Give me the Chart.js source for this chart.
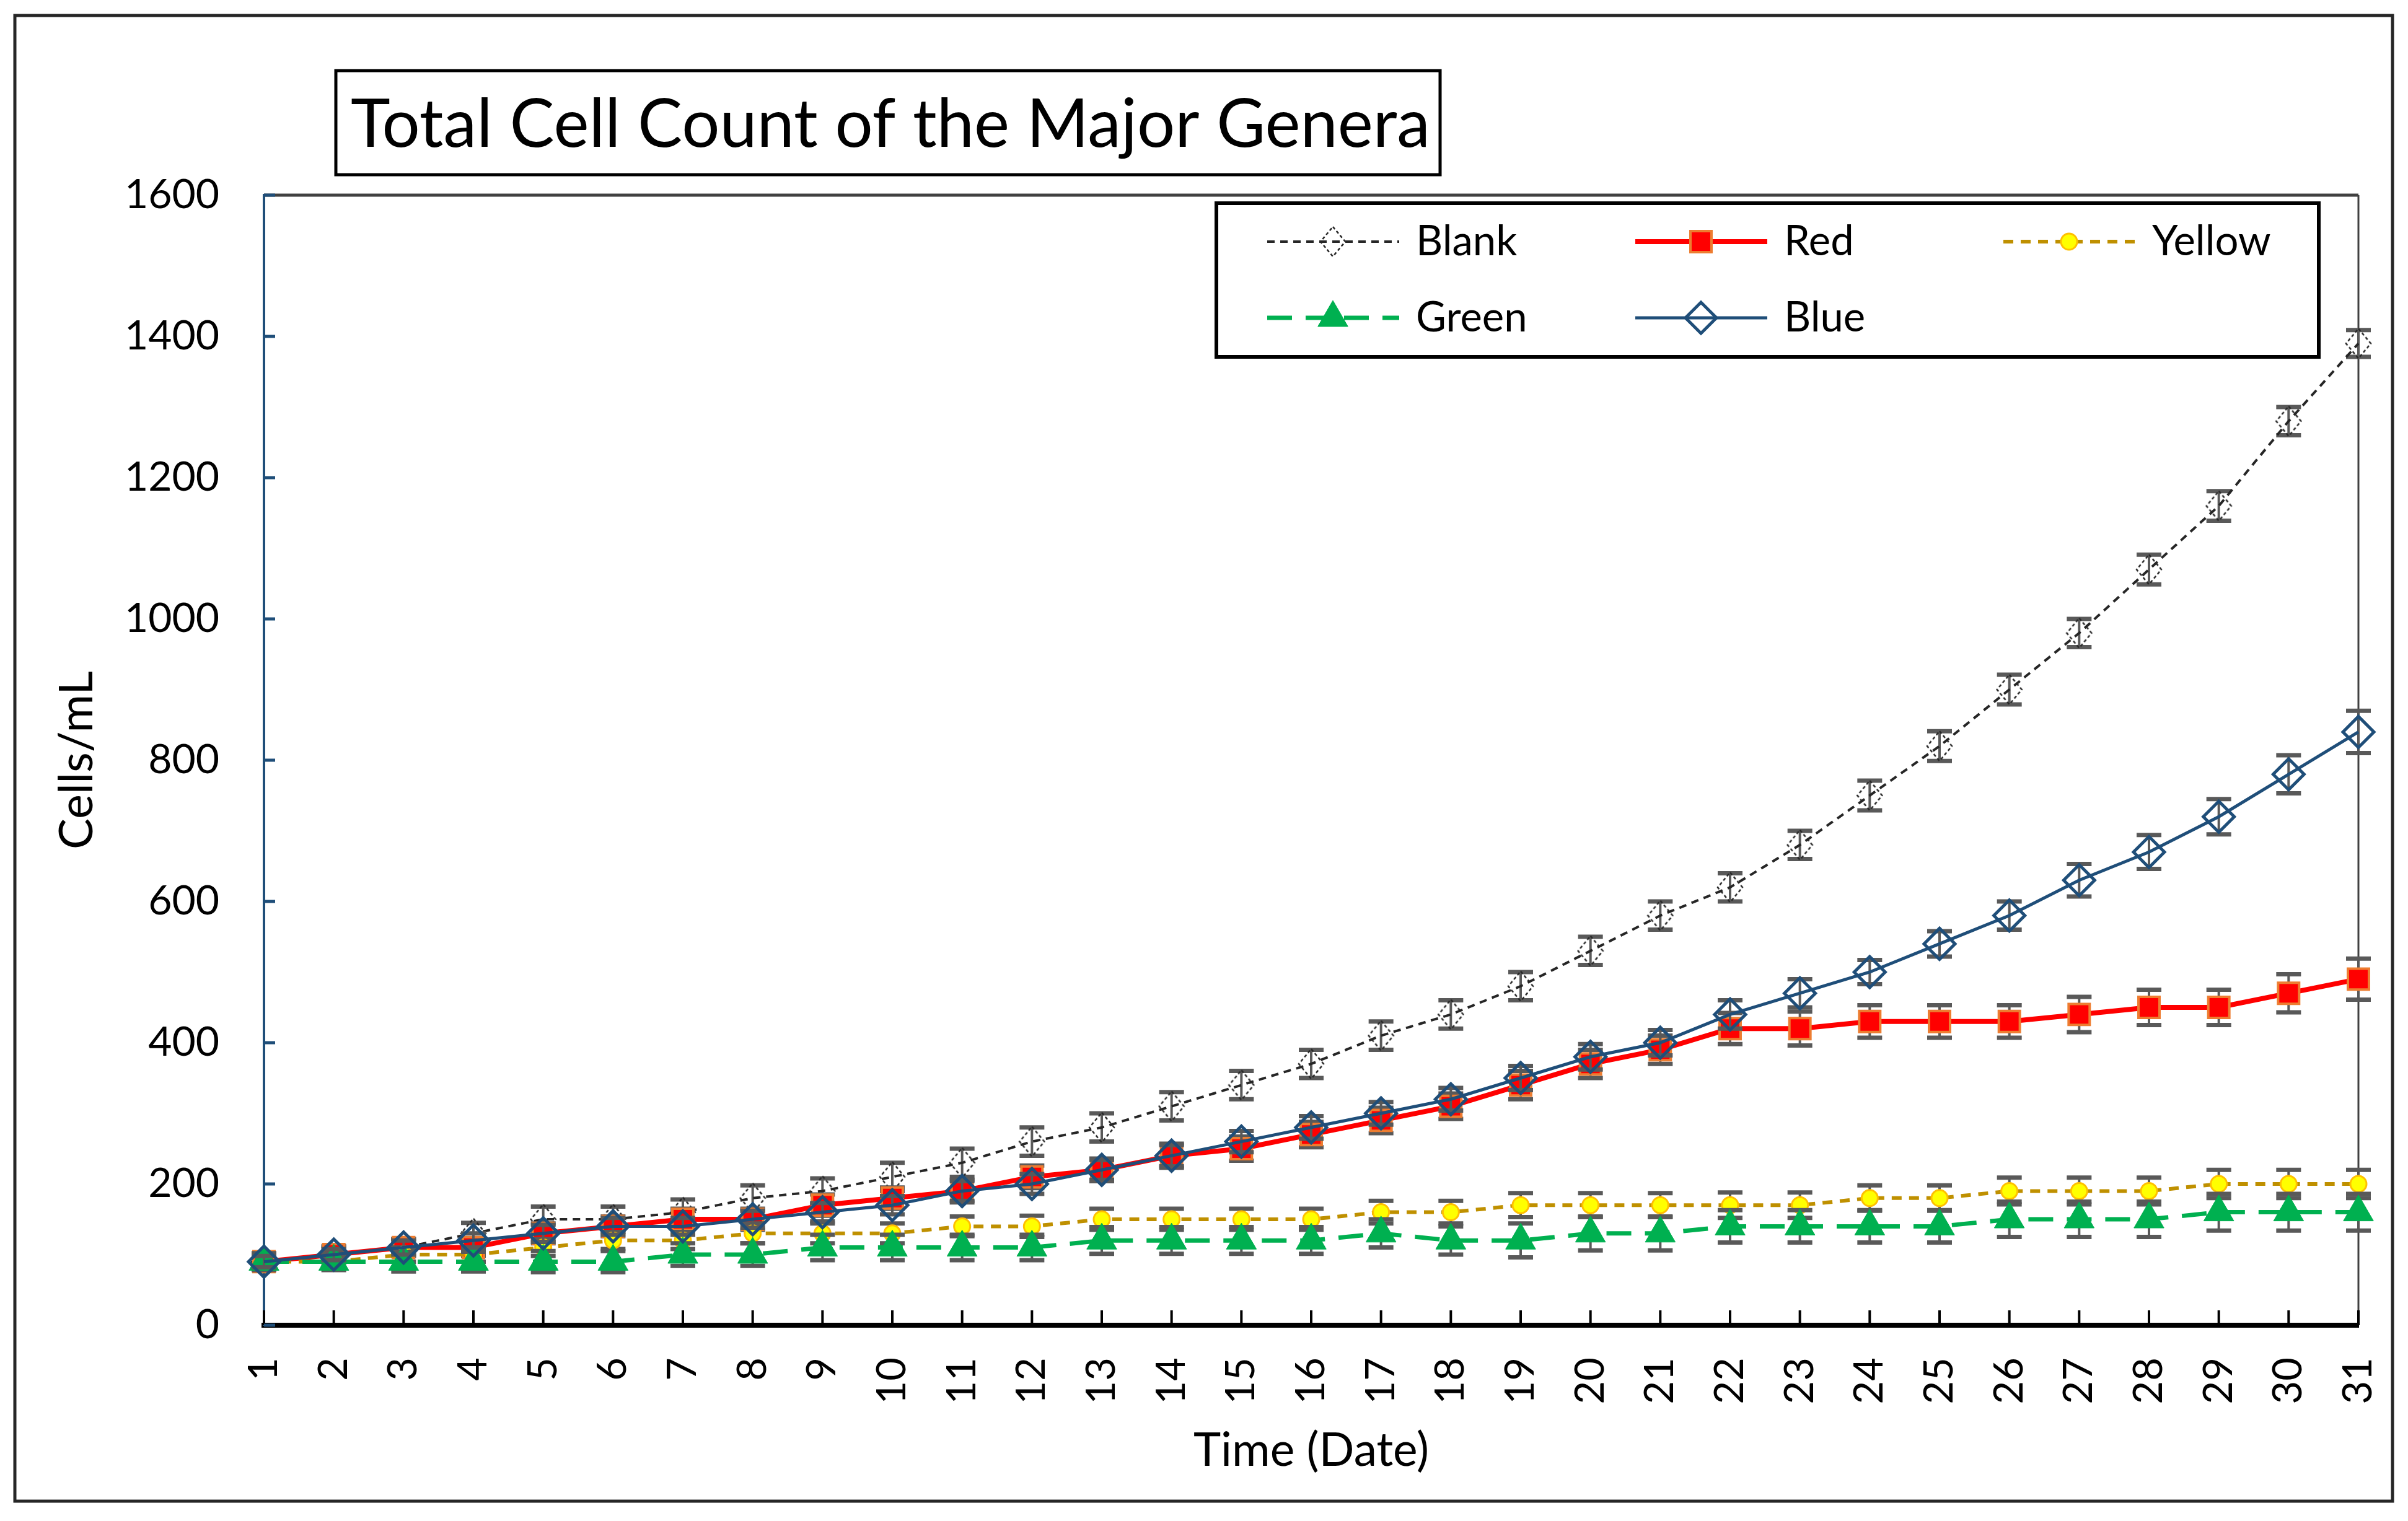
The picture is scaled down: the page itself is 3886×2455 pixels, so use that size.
<!DOCTYPE html>
<html>
<head>
<meta charset="utf-8">
<script src="https://cdn.jsdelivr.net/npm/chart.js@4.4.1/dist/chart.umd.min.js"></script>
<style>
  html, body { margin: 0; padding: 0; background: #fff; }
  #grafico { display: block; width: 3886px; height: 2455px; }
</style>
</head>
<body>
<canvas id="grafico" width="3886" height="2455"></canvas>
<script>
// dias no eixo x
const days = ['1','2','3','4','5','6','7','8','9','10','11','12','13','14','15','16','17','18','19','20','21','22','23','24','25','26','27','28','29','30','31'];

// valores (Cells/mL)
const blank  = [90,100,110,130,150,150,160,180,190,210,230,260,280,310,340,370,410,440,480,530,580,620,680,750,820,900,980,1070,1160,1280,1390];
const red    = [90,100,110,110,130,140,150,150,170,180,190,210,220,240,250,270,290,310,340,370,390,420,420,430,430,430,440,450,450,470,490];
const yellow = [90,90,100,100,110,120,120,130,130,130,140,140,150,150,150,150,160,160,170,170,170,170,170,180,180,190,190,190,200,200,200];
const green  = [90,90,90,90,90,90,100,100,110,110,110,110,120,120,120,120,130,120,120,130,130,140,140,140,140,150,150,150,160,160,160];
const blue   = [90,100,110,120,130,140,140,150,160,170,190,200,220,240,260,280,300,320,350,380,400,440,470,500,540,580,630,670,720,780,840];

// barras de erro (+/-)
const blankErr  = [10,12,12,15,18,18,18,18,18,20,20,20,20,20,20,20,20,20,20,20,20,20,20,21,21,21,20,21,21,20,19];
const redErr    = [10,10,12,12,14,14,15,15,15,15,16,16,16,17,17,18,18,18,20,20,20,22,24,23,23,23,25,25,25,27,29];
const yellowErr = [8,8,10,10,12,12,12,14,14,14,14,15,15,15,15,15,16,16,17,17,17,18,18,18,18,19,19,19,20,20,20];
const greenErr  = [12,12,14,14,15,15,16,16,18,18,18,18,19,19,19,19,20,20,24,24,24,23,23,23,23,25,25,25,26,26,26];
const blueErr   = [8,8,10,10,12,12,12,12,13,13,14,14,14,15,15,16,16,16,17,18,18,20,20,17,18,20,23,24,25,27,30];

const FONT = "Lato, 'Open Sans', sans-serif";
Chart.defaults.font.family = FONT;
Chart.defaults.color = '#000';

// marcador tracejado da série Blank
function dashedDiamond() {
    const c = document.createElement('canvas');
    c.width = 44; c.height = 52;
    const g = c.getContext('2d');
    g.strokeStyle = '#262626';
    g.lineWidth = 2.5;
    g.setLineDash([5, 4]);
    g.beginPath();
    g.moveTo(22, 2); g.lineTo(42, 26); g.lineTo(22, 50); g.lineTo(2, 26); g.closePath();
    g.stroke();
    return c;
}

// fundo e moldura externa
const moldura = {
    id: 'moldura',
    beforeDraw(chart) {
        const ctx = chart.ctx;
        ctx.save();
        ctx.fillStyle = '#fff';
        ctx.fillRect(0, 0, chart.width, chart.height);
        ctx.strokeStyle = '#262626';
        ctx.lineWidth = 5;
        ctx.strokeRect(24, 25, 3837, 2398);
        ctx.restore();
    },
    beforeDatasetsDraw(chart) {
        const ctx = chart.ctx, a = chart.chartArea;
        const x = chart.scales.x, y = chart.scales.y;
        ctx.save();
        // bordas de cima e da direita
        ctx.strokeStyle = '#404040';
        ctx.beginPath();
        ctx.lineWidth = 5;
        ctx.moveTo(a.left, a.top); ctx.lineTo(a.right, a.top);
        ctx.stroke();
        ctx.beginPath();
        ctx.lineWidth = 3;
        ctx.moveTo(a.right, a.top); ctx.lineTo(a.right, a.bottom);
        ctx.stroke();
        // marcas para dentro
        ctx.strokeStyle = '#000';
        ctx.lineWidth = 4;
        ctx.beginPath();
        x.ticks.forEach((t, i) => {
            const px = x.getPixelForTick(i);
            ctx.moveTo(px, a.bottom); ctx.lineTo(px, a.bottom - 24);
        });
        ctx.stroke();
        ctx.strokeStyle = '#1F4E79';
        ctx.lineWidth = 5;
        ctx.beginPath();
        y.ticks.forEach(t => {
            const py = y.getPixelForValue(t.value);
            ctx.moveTo(a.left, py); ctx.lineTo(a.left + 18, py);
        });
        ctx.stroke();
        ctx.restore();
    },
    afterDraw(chart) {
        const ctx = chart.ctx;
        ctx.save();
        // título em caixa
        ctx.strokeStyle = '#000';
        ctx.lineWidth = 5;
        ctx.strokeRect(542, 114, 1782, 168);
        ctx.fillStyle = '#000';
        ctx.font = '108px ' + FONT;
        ctx.textBaseline = 'middle';
        ctx.fillText('Total Cell Count of the Major Genera', 566, 202);

        // legenda
        ctx.lineWidth = 6;
        ctx.strokeRect(1963, 328, 1779, 248);
        const cols = [2045, 2639, 3233], rows = [390, 513];
        chart.data.datasets.forEach((ds, i) => {
            const lx = cols[i % 3], ly = rows[Math.floor(i / 3)];
            ctx.beginPath();
            ctx.strokeStyle = ds.borderColor;
            ctx.lineWidth = ds.borderWidth;
            ctx.setLineDash(ds.borderDash || []);
            ctx.moveTo(lx, ly); ctx.lineTo(lx + 213, ly);
            ctx.stroke();
            ctx.setLineDash([]);
            ctx.fillStyle = ds.pointBackgroundColor;
            ctx.strokeStyle = ds.pointBorderColor;
            ctx.lineWidth = ds.pointBorderWidth;
            Chart.helpers.drawPoint(ctx, {
                pointStyle: ds.pointStyle, radius: ds.pointRadius,
                borderWidth: ds.pointBorderWidth, rotation: 0
            }, lx + 106, ly);
            ctx.fillStyle = '#000';
            ctx.font = '67px ' + FONT;
            ctx.textBaseline = 'middle';
            ctx.fillText(ds.label, lx + 240, ly);
        });
        ctx.restore();
    }
};

// barras de erro, desenhadas antes de cada série
const barrasErro = {
    id: 'barrasErro',
    beforeDatasetDraw(chart, args) {
        const ds = chart.data.datasets[args.index];
        if (!ds.errors) return;
        const y = chart.scales.y, ctx = chart.ctx;
        ctx.save();
        ctx.strokeStyle = '#595959';
        ctx.setLineDash([]);
        args.meta.data.forEach((pt, i) => {
            const v = ds.data[i], e = ds.errors[i];
            const top = y.getPixelForValue(v + e), bot = y.getPixelForValue(v - e);
            ctx.lineWidth = 4;
            ctx.beginPath();
            ctx.moveTo(pt.x, top); ctx.lineTo(pt.x, bot);
            ctx.stroke();
            ctx.lineWidth = 7;
            ctx.beginPath();
            ctx.moveTo(pt.x - 20, top); ctx.lineTo(pt.x + 20, top);
            ctx.moveTo(pt.x - 20, bot); ctx.lineTo(pt.x + 20, bot);
            ctx.stroke();
        });
        ctx.restore();
    }
};

const ctx = document.getElementById('grafico').getContext('2d');
const chart = new Chart(ctx, {
    type: 'line',
    data: {
        labels: days,
        datasets: [{
            label: 'Blank',
            data: blank,
            errors: blankErr,
            borderColor: '#262626',
            borderWidth: 4,
            borderDash: [12, 9],
            pointStyle: dashedDiamond(),
            pointRadius: 22,
            pointBackgroundColor: 'rgba(0,0,0,0)',
            pointBorderColor: '#404040',
            pointBorderWidth: 2,
            order: 4
        }, {
            label: 'Red',
            data: red,
            errors: redErr,
            borderColor: '#FF0000',
            borderWidth: 8,
            pointStyle: 'rect',
            pointRadius: 24,
            pointBackgroundColor: '#FF0000',
            pointBorderColor: '#ED7D31',
            pointBorderWidth: 4,
            order: 3
        }, {
            label: 'Yellow',
            data: yellow,
            errors: yellowErr,
            borderColor: '#BF9000',
            borderWidth: 6,
            borderDash: [16, 12],
            pointStyle: 'circle',
            pointRadius: 13,
            pointBackgroundColor: '#FFFF00',
            pointBorderColor: '#FFC000',
            pointBorderWidth: 3,
            order: 2
        }, {
            label: 'Green',
            data: green,
            errors: greenErr,
            borderColor: '#00B050',
            borderWidth: 7,
            borderDash: [40, 22],
            pointStyle: 'triangle',
            pointRadius: 28,
            pointBackgroundColor: '#00B050',
            pointBorderColor: '#00B050',
            pointBorderWidth: 1,
            order: 1
        }, {
            label: 'Blue',
            data: blue,
            errors: blueErr,
            borderColor: '#1F4E79',
            borderWidth: 5,
            pointStyle: 'rectRot',
            pointRadius: 25,
            pointBackgroundColor: 'rgba(0,0,0,0)',
            pointBorderColor: '#1F4E79',
            pointBorderWidth: 5,
            order: 0
        }]
    },
    options: {
        responsive: false,
        devicePixelRatio: 1,
        animation: false,
        layout: { padding: { top: 315, right: 80, left: 0, bottom: 0 } },
        elements: { line: { tension: 0 } },
        datasets: { line: { clip: false } },
        plugins: {
            legend: { display: false },
            tooltip: { enabled: false }
        },
        scales: {
            x: {
                type: 'category',
                offset: false,
                grid: { display: false, drawTicks: false },
                border: { display: true, color: '#000', width: 8 },
                ticks: {
                    autoSkip: false,
                    maxRotation: 90,
                    minRotation: 90,
                    padding: 52,
                    font: { size: 65 },
                    color: '#000'
                },
                title: {
                    display: true,
                    text: 'Time (Date)',
                    font: { size: 75 },
                    color: '#000',
                    padding: { top: 68, bottom: 68 }
                },
                afterFit(scale) {
                    scale.height = 316;
                    scale.paddingLeft = 0;
                    scale.paddingRight = 0;
                }
            },
            y: {
                min: 0,
                max: 1600,
                grid: { display: false, drawTicks: false },
                border: { display: true, color: '#1F4E79', width: 4 },
                ticks: {
                    stepSize: 200,
                    padding: 72,
                    font: { size: 66 },
                    color: '#000',
                    callback: v => String(v)
                },
                title: {
                    display: true,
                    text: 'Cells/mL',
                    font: { size: 75 },
                    color: '#000',
                    padding: { top: 80, bottom: 80 }
                },
                afterFit(scale) {
                    scale.width = 426;
                    scale.paddingTop = 0;
                    scale.paddingBottom = 0;
                }
            }
        }
    },
    plugins: [moldura, barrasErro]
});
</script>
</body>
</html>
